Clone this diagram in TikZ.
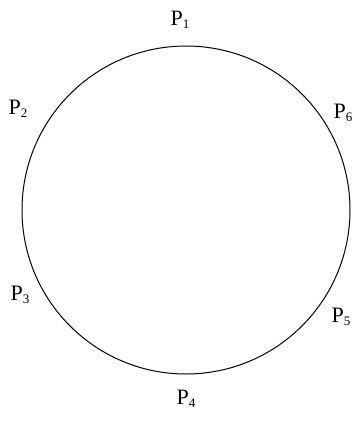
\documentclass[tikz,border=0pt]{standalone}
\usepackage{fontspec}
\setmainfont{Liberation Serif}
\newcommand{\plab}[1]{P\raisebox{-0.35ex}{\fontsize{13}{13}\selectfont #1}}
\begin{document}
\begin{tikzpicture}[x=1pt,y=-1pt,
  lbl/.style={font=\fontsize{22}{24}\selectfont, inner sep=0pt}]
\useasboundingbox (0,0) rectangle (363,421);
\node[draw, circle, minimum size=328pt, line width=1pt, inner sep=0pt] (c) at (186,210) {};
\node[lbl] (p1) at (180,20) {\plab{1}};
\node[lbl] (p2) at (18,109) {\plab{2}};
\node[lbl] (p3) at (20,295) {\plab{3}};
\node[lbl] (p4) at (186,399) {\plab{4}};
\node[lbl] (p5) at (341,317) {\plab{5}};
\node[lbl] (p6) at (343,113) {\plab{6}};
\end{tikzpicture}
\end{document}
